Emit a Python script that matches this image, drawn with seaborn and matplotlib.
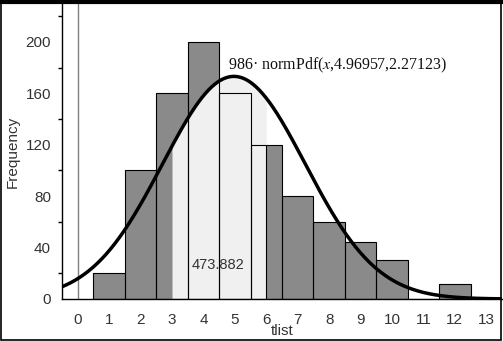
import numpy as np
import pandas as pd
import matplotlib
matplotlib.use("Agg")
import matplotlib.pyplot as plt
from matplotlib.ticker import FixedLocator
import seaborn as sns

# Frequency table of tlist (bin width 1, centred on integers)
tlist_values = [1, 2, 3, 4, 5, 6, 7, 8, 9, 10, 12]
frequencies = [20, 100, 160, 200, 160, 120, 80, 60, 44, 30, 12]

# Fitted normal curve parameters
n_total = 986
mu = 4.96957
sigma = 2.27123

# Shaded interval and its area
shade_lo, shade_hi = 3, 6
area_label = "473.882"

x_ticks = list(range(0, 14))
y_major = [0, 40, 80, 120, 160, 200]
y_minor = [20, 60, 100, 140, 180, 220]

df = pd.DataFrame({"tlist": tlist_values, "freq": frequencies})

sns.set_theme(style="white")
plt.rcParams["font.family"] = ["Liberation Sans", "DejaVu Sans"]
plt.rcParams["mathtext.fontset"] = "stix"

fig = plt.figure(figsize=(5.03, 3.41), dpi=100)
ax = fig.add_axes([62 / 503, 1 - 299 / 341, 440 / 503, 295 / 341])

DARK = "#8a8a8a"
LIGHT = "#f0f0f0"
TEXT = "#333333"

# filled histogram bars
sns.histplot(data=df, x="tlist", weights="freq", discrete=True,
             color=DARK, alpha=1, edgecolor="none", linewidth=0, ax=ax)


def norm_curve(x):
    return n_total * np.exp(-0.5 * ((x - mu) / sigma) ** 2) / (sigma * np.sqrt(2 * np.pi))


# shaded area under the curve
xs = np.linspace(shade_lo, shade_hi, 300)
ax.fill_between(xs, 0, norm_curve(xs), color=LIGHT, lw=0, zorder=2)

# bar outlines on top of the shading
sns.histplot(data=df, x="tlist", weights="freq", discrete=True,
             fill=False, color="black", linewidth=0.8, ax=ax, zorder=3)
ax.plot([shade_hi, shade_hi], [0, 120], color="black", lw=0.8, zorder=3)

# y axis line at x = 0
ax.axvline(0, color="#808080", lw=1, zorder=1)

# fitted curve
xc = np.linspace(-0.5, 13.5, 400)
sns.lineplot(x=xc, y=norm_curve(xc), color="black", lw=2.5, ax=ax, zorder=4)

ax.text(4.78, 182, "986\u00b7 normPdf($x$,4.96957,2.27123)",
        family="Liberation Serif", fontsize=11.5, color="#111111",
        ha="left", va="center", zorder=5)
ax.text(4.46, 26.5, area_label, fontsize=10.5, color=TEXT,
        ha="center", va="center", zorder=5)

ax.set_xlim(-0.5, 13.5)
ax.set_ylim(0, 229.5)
ax.xaxis.set_major_locator(FixedLocator(x_ticks))
ax.yaxis.set_major_locator(FixedLocator(y_major))
ax.yaxis.set_minor_locator(FixedLocator(y_minor))

for side in ["top", "right"]:
    ax.spines[side].set_visible(False)
for side in ["left", "bottom"]:
    ax.spines[side].set_color("black")
    ax.spines[side].set_linewidth(1)

ax.tick_params(axis="both", which="major", direction="out", length=5, width=1,
               color="black", labelsize=11, labelcolor=TEXT)
ax.tick_params(axis="x", which="major", pad=5)
ax.tick_params(axis="y", which="major", pad=3)
ax.tick_params(axis="y", which="minor", direction="out", length=3, width=1,
               color="black", left=True)

ax.set_xlabel("tlist", fontsize=11, color=TEXT)
ax.set_ylabel("Frequency", fontsize=11, color=TEXT)
ax.xaxis.set_label_coords(0.5, -0.085)
ax.yaxis.set_label_coords(-0.095, 0.5)

# window frame
frame = plt.Rectangle((0.001, 0.002), 0.996, 0.99, transform=fig.transFigure,
                      fill=False, edgecolor="black", lw=1.2)
fig.patches.append(frame)
fig.add_artist(plt.Line2D([0, 1], [1 - 2 / 341, 1 - 2 / 341],
                          transform=fig.transFigure, color="black", lw=3))

fig.savefig("out.png", dpi=100)
